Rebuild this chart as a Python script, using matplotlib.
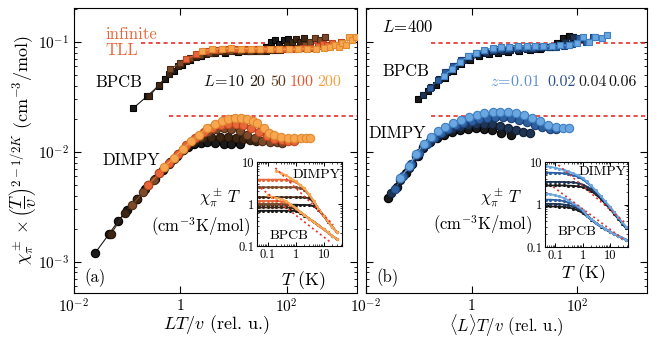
import matplotlib
matplotlib.use("Agg")
import matplotlib.pyplot as plt
from matplotlib.ticker import NullLocator, LogLocator, FixedLocator, NullFormatter

plt.rcParams['font.family'] = 'serif'
plt.rcParams['font.serif'] = ['cmr10', 'DejaVu Serif']
plt.rcParams['mathtext.fontset'] = 'cm'
plt.rcParams['axes.unicode_minus'] = False
plt.rcParams['axes.formatter.use_mathtext'] = True

# ---------------- dados painel (a): BPCB, L = 10, 20, 50, 100, 200
L_vals = ['10', '20', '50', '100', '200']
bpcb_a_x = [
    [0.13, 0.235, 0.39, 0.52, 0.75, 1.08, 1.55, 2.4, 4.2, 7, 12, 20, 30, 40, 50, 60, 72, 88, 105],
    [0.26, 0.4, 0.6, 0.9, 1.3, 2, 3, 4.5, 7, 11, 17, 26, 40, 60, 80, 100, 125, 150, 180, 210],
    [0.65, 1, 1.5, 2.3, 3.5, 5.5, 8.5, 13, 20, 32, 50, 75, 110, 160, 220, 280, 340, 420, 520],
    [1.3, 2, 3, 4.5, 7, 11, 17, 26, 40, 60, 90, 140, 200, 280, 380, 480, 580, 700, 850, 1050],
    [2.6, 4, 6, 9, 14, 21, 32, 48, 72, 110, 160, 240, 350, 500, 650, 800, 950, 1100, 1300, 1500, 1700, 2000],
]
bpcb_a_y = [
    [0.025, 0.032, 0.040, 0.046, 0.054, 0.062, 0.069, 0.075, 0.079, 0.080, 0.081, 0.083, 0.086, 0.091, 0.100, 0.104, 0.096, 0.104, 0.106],
    [0.032, 0.041, 0.051, 0.060, 0.067, 0.073, 0.077, 0.080, 0.081, 0.082, 0.082, 0.082, 0.083, 0.085, 0.088, 0.094, 0.100, 0.106, 0.101, 0.108],
    [0.057, 0.064, 0.071, 0.076, 0.080, 0.082, 0.083, 0.083, 0.083, 0.083, 0.084, 0.085, 0.087, 0.089, 0.093, 0.100, 0.108, 0.104, 0.110],
    [0.070, 0.077, 0.082, 0.085, 0.086, 0.086, 0.086, 0.086, 0.086, 0.086, 0.086, 0.087, 0.088, 0.089, 0.092, 0.096, 0.093, 0.099, 0.094, 0.100],
    [0.083, 0.086, 0.087, 0.088, 0.087, 0.087, 0.087, 0.086, 0.086, 0.086, 0.086, 0.087, 0.087, 0.088, 0.090, 0.094, 0.090, 0.098, 0.093, 0.112, 0.104, 0.110],
]

# DIMPY, L = 10, 20, 50, 100, 200
dimpy_a_x = [
    [0.0249, 0.046, 0.0685, 0.0986, 0.15, 0.22, 0.33, 0.48, 0.65, 0.85, 1.1, 1.4, 1.8, 2.4, 3.2, 4.5, 6.5, 9, 13.5],
    [0.05, 0.09, 0.15, 0.25, 0.4, 0.6, 0.9, 1.3, 1.9, 2.7, 3.8, 5.5, 8, 11, 15, 20, 27],
    [0.125, 0.2, 0.32, 0.5, 0.75, 1.1, 1.6, 2.3, 3.3, 4.7, 6.5, 9, 13, 18, 25, 35, 48, 65, 80],
    [0.25, 0.4, 0.6, 0.9, 1.3, 1.9, 2.8, 4, 5.7, 8, 11, 15, 21, 30, 42, 58, 80, 105, 135],
    [0.5, 0.75, 1.1, 1.6, 2.2, 3.2, 4.5, 6, 8, 10.5, 14, 18, 23, 28, 37, 46, 57, 77, 104, 136, 183, 230, 280],
]
dimpy_a_y = [
    [0.0012, 0.0018, 0.00237, 0.00297, 0.0037, 0.0046, 0.0057, 0.0069, 0.0081, 0.0092, 0.0103, 0.0112, 0.0118, 0.0121, 0.0122, 0.0120, 0.0118, 0.0117, 0.0117],
    [0.0018, 0.0028, 0.0037, 0.0050, 0.0064, 0.0078, 0.0095, 0.0112, 0.0125, 0.0133, 0.0137, 0.0138, 0.0136, 0.0133, 0.0130, 0.0128, 0.0127],
    [0.0033, 0.0043, 0.0056, 0.0071, 0.0086, 0.0104, 0.0122, 0.0138, 0.0152, 0.0161, 0.0165, 0.0163, 0.0155, 0.0143, 0.0133, 0.0126, 0.0123, 0.0122, 0.0121],
    [0.0050, 0.0064, 0.0079, 0.0095, 0.0115, 0.0133, 0.0152, 0.0166, 0.0176, 0.0181, 0.0180, 0.0175, 0.0165, 0.0152, 0.0140, 0.0132, 0.0128, 0.0127, 0.0126],
    [0.0073, 0.0088, 0.0106, 0.0126, 0.0142, 0.0165, 0.0180, 0.0192, 0.0200, 0.0204, 0.0204, 0.0200, 0.0193, 0.0182, 0.0164, 0.0150, 0.0142, 0.0137, 0.0135, 0.0133, 0.0133, 0.0134, 0.0133],
]

# ---------------- dados painel (b): L = 400, z = 0.06, 0.04, 0.02, 0.01
z_vals = ['0.06', '0.04', '0.02', '0.01']
bpcb_b_x = [
    [0.097, 0.15, 0.21, 0.31, 0.44, 0.64, 0.92, 1.4, 2.1, 3.2, 5, 8, 13, 20, 30, 42, 55, 70, 85],
    [0.12, 0.17, 0.24, 0.34, 0.48, 0.68, 0.95, 1.35, 1.9, 2.7, 3.8, 5.4, 7.6, 11, 15, 21, 30, 42, 60, 85, 110],
    [0.16, 0.23, 0.32, 0.45, 0.63, 0.9, 1.25, 1.8, 2.5, 3.5, 5, 7, 10, 14, 20, 28, 40, 56, 80, 110, 150, 200],
    [0.3, 0.42, 0.6, 0.85, 1.2, 1.7, 2.5, 3.6, 5.2, 7.5, 11, 16, 23, 33, 48, 70, 100, 130, 170, 220, 290, 370],
]
bpcb_b_y = [
    [0.030, 0.036, 0.041, 0.047, 0.055, 0.063, 0.069, 0.074, 0.077, 0.079, 0.081, 0.083, 0.085, 0.087, 0.091, 0.098, 0.108, 0.113, 0.110],
    [0.033, 0.039, 0.046, 0.053, 0.061, 0.068, 0.073, 0.077, 0.080, 0.082, 0.083, 0.084, 0.085, 0.086, 0.087, 0.088, 0.090, 0.093, 0.100, 0.110, 0.106],
    [0.038, 0.045, 0.053, 0.061, 0.068, 0.074, 0.079, 0.082, 0.085, 0.086, 0.087, 0.088, 0.089, 0.089, 0.090, 0.090, 0.091, 0.092, 0.095, 0.108, 0.100, 0.112],
    [0.049, 0.057, 0.066, 0.074, 0.080, 0.085, 0.088, 0.090, 0.091, 0.092, 0.092, 0.092, 0.092, 0.092, 0.093, 0.094, 0.097, 0.110, 0.100, 0.112, 0.108, 0.117],
]
dimpy_b_x = [
    [0.026, 0.038, 0.058, 0.075, 0.095, 0.12, 0.16, 0.22, 0.3, 0.42, 0.6, 0.85, 1.2, 1.7, 2.4, 3.6, 5.6],
    [0.03, 0.045, 0.065, 0.09, 0.12, 0.16, 0.22, 0.3, 0.42, 0.6, 0.85, 1.2, 1.7, 2.4, 3.4, 4.8, 6.8, 9.5, 13],
    [0.035, 0.05, 0.07, 0.1, 0.14, 0.19, 0.26, 0.36, 0.5, 0.7, 1, 1.4, 2, 2.8, 4, 5.6, 8, 11, 16, 22, 30, 40],
    [0.045, 0.065, 0.09, 0.125, 0.17, 0.23, 0.32, 0.45, 0.63, 0.9, 1.25, 1.75, 2.5, 3.5, 5, 7, 10, 14, 20, 28, 40, 55, 70],
]
dimpy_b_y = [
    [0.0038, 0.0048, 0.0064, 0.0078, 0.0092, 0.0108, 0.0122, 0.0134, 0.0144, 0.0152, 0.0158, 0.0162, 0.0164, 0.0163, 0.0158, 0.0150, 0.0143],
    [0.0042, 0.0056, 0.0072, 0.0092, 0.0110, 0.0126, 0.0140, 0.0152, 0.0162, 0.0170, 0.0176, 0.0180, 0.0181, 0.0178, 0.0172, 0.0164, 0.0157, 0.0152, 0.0148],
    [0.0046, 0.0060, 0.0077, 0.0098, 0.0118, 0.0135, 0.0150, 0.0163, 0.0174, 0.0184, 0.0193, 0.0200, 0.0205, 0.0207, 0.0206, 0.0202, 0.0195, 0.0186, 0.0176, 0.0167, 0.0162, 0.0160],
    [0.0058, 0.0074, 0.0096, 0.0118, 0.0138, 0.0155, 0.0170, 0.0184, 0.0196, 0.0207, 0.0217, 0.0225, 0.0230, 0.0232, 0.0231, 0.0227, 0.0218, 0.0205, 0.0190, 0.0176, 0.0168, 0.0165, 0.0166],
]

# nivel TLL infinito (BPCB, DIMPY) e inicio das linhas
tll_level = [0.098, 0.0212]
tll_start_a = [0.18, 0.6]
tll_start_b = [0.17, 0.17]

# ---------------- insets: chi*T vs T
T_ins_a = [0.05, 0.07, 0.1, 0.14, 0.2, 0.3, 0.45, 0.65, 1.0, 1.4, 2.0, 3.0, 4.5, 6.5, 10, 14, 20, 30]
ins_a_dimpy = [
    [0.96, 0.96, 0.96, 0.96, 0.96, 0.96, 0.96, 0.96, 0.96, 0.95, 0.95, 0.94, 0.88, 0.72, 0.51, 0.38, 0.29, 0.21],
    [1.45, 1.45, 1.45, 1.45, 1.45, 1.45, 1.45, 1.45, 1.45, 1.44, 1.43, 1.38, 1.08, 0.77, 0.52, 0.39, 0.29, 0.21],
    [2.5, 2.5, 2.5, 2.5, 2.5, 2.5, 2.5, 2.5, 2.48, 2.4, 2.2, 1.65, 1.13, 0.78, 0.52, 0.39, 0.29, 0.21],
    [3.8, 3.8, 3.8, 3.8, 3.8, 3.8, 3.75, 3.6, 3.3, 2.85, 2.35, 1.7, 1.15, 0.78, 0.52, 0.39, 0.29, 0.21],
    [None, None, None, None, 6.2, 5.5, 4.8, 4.2, 3.5, 2.9, 2.4, 1.7, 1.15, 0.78, 0.52, 0.39, 0.29, 0.21],
]
ins_a_bpcb = [
    [0.69, 0.69, 0.69, 0.69, 0.69, 0.69, 0.69, 0.69, 0.68, 0.62, 0.53, 0.45, 0.37, 0.31, 0.25, 0.21, 0.175, 0.145],
    [0.83, 0.83, 0.83, 0.83, 0.83, 0.83, 0.83, 0.82, 0.74, 0.64, 0.55, 0.45, 0.37, 0.31, 0.25, 0.21, 0.175, 0.145],
    [1.0, 1.0, 1.0, 1.0, 1.0, 1.0, 0.99, 0.93, 0.78, 0.66, 0.55, 0.45, 0.37, 0.31, 0.25, 0.21, 0.175, 0.145],
    [1.18, 1.18, 1.18, 1.18, 1.18, 1.16, 1.1, 0.97, 0.79, 0.66, 0.55, 0.45, 0.37, 0.31, 0.25, 0.21, 0.175, 0.145],
    [None, None, 1.6, 1.5, 1.42, 1.32, 1.18, 1.0, 0.8, 0.66, 0.55, 0.45, 0.37, 0.31, 0.25, 0.21, 0.175, 0.145],
]
ins_a_tll_T = [[0.19, 22], [0.057, 19]]
ins_a_tll_v = [[7.2, 0.32], [2.4, 0.118]]

T_ins_b = [0.045, 0.065, 0.1, 0.14, 0.2, 0.3, 0.45, 0.65, 1.0, 1.4, 2.0, 3.0, 4.5, 6.5, 10, 14, 20, 28, 38]
ins_b_dimpy = [
    [2.8, 2.8, 2.8, 2.8, 2.8, 2.78, 2.75, 2.68, 2.55, 2.35, 2.1, 1.72, 1.37, 1.05, 0.79, 0.6, 0.46, 0.35, 0.28],
    [3.4, 3.4, 3.4, 3.4, 3.38, 3.35, 3.3, 3.2, 2.95, 2.65, 2.3, 1.85, 1.45, 1.1, 0.82, 0.62, 0.47, 0.36, 0.28],
    [5.6, 5.6, 5.55, 5.5, 5.4, 5.2, 4.9, 4.5, 3.9, 3.3, 2.7, 2.1, 1.57, 1.18, 0.86, 0.65, 0.49, 0.37, 0.29],
    [8.0, 7.7, 7.3, 6.9, 6.5, 6.0, 5.4, 4.9, 4.2, 3.5, 2.8, 2.15, 1.6, 1.2, 0.88, 0.66, 0.5, 0.38, 0.3],
]
ins_b_bpcb = [
    [0.9, 0.9, 0.9, 0.89, 0.88, 0.85, 0.8, 0.73, 0.63, 0.53, 0.44, 0.36, 0.3, 0.26, 0.225, 0.2, 0.18, 0.16, 0.147],
    [1.04, 1.04, 1.03, 1.02, 1.0, 0.96, 0.9, 0.8, 0.67, 0.56, 0.45, 0.37, 0.31, 0.27, 0.23, 0.2, 0.18, 0.163, 0.148],
    [1.3, 1.3, 1.28, 1.25, 1.2, 1.12, 1.0, 0.87, 0.71, 0.58, 0.46, 0.37, 0.31, 0.27, 0.23, 0.205, 0.185, 0.165, 0.15],
    [1.8, 1.75, 1.65, 1.55, 1.42, 1.26, 1.08, 0.92, 0.74, 0.55, 0.45, 0.37, 0.31, 0.27, 0.23, 0.205, 0.185, 0.165, 0.15],
]
ins_b_tll_T = [[0.13, 34], [0.084, 34]]
ins_b_tll_v = [[8.5, 0.38], [2.6, 0.145]]

# ---------------- cores
face_a = ['#1a1a1a', '#3d2614', '#7b4a2a', '#e8673a', '#f8a650']
edge_a = ['#000000', '#24140a', '#4d2a14', '#c0451d', '#e08a30']
text_a = ['#111111', '#2a1a10', '#5a3418', '#e8552a', '#f5a040']
face_b = ['#1a1a1a', '#1f3352', '#2d5fa3', '#6aa6e0']
edge_b = ['#000000', '#0f1d33', '#1b3f73', '#3f7fc0']
text_b = ['#111111', '#222222', '#2a4f8a', '#5b8fd0']
red = '#e8302a'

W, H = 657, 339


def fpos(x, y):
    # pixel -> fracao da figura
    return x / W, 1 - y / H


def style_main(ax):
    ax.set_xscale('log')
    ax.set_yscale('log')
    ax.set_xlim(1e-2, 2100)
    ax.set_ylim(5.2e-4, 0.204)
    ax.xaxis.set_major_locator(FixedLocator([1e-2, 1, 1e2]))
    ax.xaxis.set_minor_locator(NullLocator())
    ax.set_xticklabels([r'$10^{-2}$', r'$1$', r'$10^{2}$'])
    ax.yaxis.set_major_locator(FixedLocator([1e-3, 1e-2, 1e-1]))
    ax.yaxis.set_minor_locator(LogLocator(base=10, subs=range(2, 10)))
    ax.yaxis.set_minor_formatter(NullFormatter())
    ax.tick_params(which='both', direction='in', top=True, right=True, labelsize=11)
    ax.tick_params(which='major', length=5, width=0.8)
    ax.tick_params(which='minor', length=2.5, width=0.6)


def style_inset(ax):
    ax.set_xscale('log')
    ax.set_yscale('log')
    ax.set_xlim(0.042, 45)
    ax.set_ylim(0.1, 10)
    ax.xaxis.set_major_locator(FixedLocator([0.1, 1, 10]))
    ax.yaxis.set_major_locator(FixedLocator([0.1, 1, 10]))
    ax.set_xticklabels(['0.1', '1', '10'])
    ax.set_yticklabels(['0.1', '1', '10'])
    ax.xaxis.set_minor_formatter(NullFormatter())
    ax.yaxis.set_minor_formatter(NullFormatter())
    ax.tick_params(which='both', direction='in', top=True, right=True, labelsize=9, pad=2)
    ax.tick_params(which='major', length=3, width=0.7)
    ax.tick_params(which='minor', length=1.5, width=0.5)


fig = plt.figure(figsize=(W / 100, H / 100), dpi=100)
axa = fig.add_axes([74 / W, 1 - 293 / H, 283 / W, 285 / H])
axb = fig.add_axes([366 / W, 1 - 293 / H, 281 / W, 285 / H])

# painel (a)
for i in range(len(L_vals)):
    axa.plot(bpcb_a_x[i], bpcb_a_y[i], '-s', color=face_a[i], mfc=face_a[i], mec=edge_a[i],
             ms=5, mew=0.8, lw=0.8, zorder=3 + i)
    axa.plot(dimpy_a_x[i], dimpy_a_y[i], '-o', color=face_a[i], mfc=face_a[i], mec=edge_a[i],
             ms=6, mew=0.8, lw=0.8, zorder=3 + i)
for lev, x0 in zip(tll_level, tll_start_a):
    axa.hlines(lev, x0, 2100, colors=red, linestyles=(0, (2.5, 2)), lw=1.2, zorder=2)
style_main(axa)
axa.set_ylabel(r'$\chi_\pi^\pm\times\left(\dfrac{T}{v}\right)^{2-1/2K}$ (cm$^{-3}$/mol)', fontsize=13, labelpad=0)
fig.text(*fpos(216, 325), r'$LT/v$ (rel. u.)', fontsize=13, ha='center', va='center')

# painel (b)
for i in range(len(z_vals)):
    axb.plot(bpcb_b_x[i], bpcb_b_y[i], '-s', color=face_b[i], mfc=face_b[i], mec=edge_b[i],
             ms=5, mew=0.8, lw=0.8, zorder=3 + i)
    axb.plot(dimpy_b_x[i], dimpy_b_y[i], '-o', color=face_b[i], mfc=face_b[i], mec=edge_b[i],
             ms=6, mew=0.8, lw=0.8, zorder=3 + i)
for lev, x0 in zip(tll_level, tll_start_b):
    axb.hlines(lev, x0, 2100, colors=red, linestyles=(0, (2.5, 2)), lw=1.2, zorder=2)
style_main(axb)
axb.set_yticklabels([])
fig.text(*fpos(506, 326), r'$\langle L\rangle T/v$ (rel. u.)', fontsize=12, ha='center', va='center')

# textos painel (a)
fig.text(*fpos(105, 34), 'infinite', color='#e8673a', fontsize=12, va='center', ha='left')
fig.text(*fpos(105, 50), 'TLL', color='#e8673a', fontsize=12, va='center', ha='left')
fig.text(*fpos(119, 82), 'BPCB', fontsize=12, va='center', ha='center')
fig.text(*fpos(131, 160), 'DIMPY', fontsize=12, va='center', ha='center')
fig.text(*fpos(95, 278), '(a)', fontsize=12, va='center', ha='center')
fig.text(*fpos(203, 82), r'$L\!=\!$10', color=text_a[0], fontsize=11.5, va='center', ha='left')
for s, xp, c in zip(L_vals[1:], [249, 270, 290, 317], text_a[1:]):
    fig.text(*fpos(xp, 82), s, color=c, fontsize=11.5, va='center', ha='left')

# textos painel (b)
fig.text(*fpos(408, 27), r'$L\!=\!$400', fontsize=12, va='center', ha='center')
fig.text(*fpos(406, 71), 'BPCB', fontsize=12, va='center', ha='center')
fig.text(*fpos(397, 133), 'DIMPY', fontsize=12, va='center', ha='center')
fig.text(*fpos(387, 278), '(b)', fontsize=12, va='center', ha='center')
fig.text(*fpos(490, 82), r'$z\!=\!0.01$', color=text_b[3], fontsize=11.5, va='center', ha='left')
for s, xp, c in zip(['0.02', '0.04', '0.06'], [547, 578, 608], [text_b[2], text_b[1], text_b[0]]):
    fig.text(*fpos(xp, 82), s, color=c, fontsize=11.5, va='center', ha='left')

# inset (a)
ina = fig.add_axes([257 / W, 1 - 246 / H, 85 / W, 84 / H])
for i in range(len(L_vals)):
    ina.plot(T_ins_a, ins_a_dimpy[i], '.-', color=face_a[i], ms=2.5, lw=1.3)
    ina.plot(T_ins_a, ins_a_bpcb[i], '.-', color=face_a[i], ms=2.5, lw=1.3)
for tt, vv in zip(ins_a_tll_T, ins_a_tll_v):
    ina.plot(tt, vv, color=red, ls=(0, (1.2, 1.8)), lw=1.2)
style_inset(ina)
ina.text(0.98, 0.85, 'DIMPY', transform=ina.transAxes, fontsize=10, ha='right', va='center')
ina.text(0.38, 0.12, 'BPCB', transform=ina.transAxes, fontsize=10, ha='center', va='center')
fig.text(*fpos(241, 198), r'$\chi_\pi^\pm\, T$', fontsize=12, ha='right', va='center')
fig.text(*fpos(250, 227), r'(cm$^{-3}$K/mol)', fontsize=12, ha='right', va='center')
fig.text(*fpos(303, 281), r'$T$ (K)', fontsize=13, ha='center', va='center')

# inset (b)
inb = fig.add_axes([545 / W, 1 - 247 / H, 83 / W, 85 / H])
for i in range(len(z_vals)):
    inb.plot(T_ins_b, ins_b_dimpy[i], '.-', color=face_b[i], ms=2.5, lw=1.3)
    inb.plot(T_ins_b, ins_b_bpcb[i], '.-', color=face_b[i], ms=2.5, lw=1.3)
for tt, vv in zip(ins_b_tll_T, ins_b_tll_v):
    inb.plot(tt, vv, color=red, ls=(0, (1.2, 1.8)), lw=1.2)
style_inset(inb)
inb.text(0.98, 0.88, 'DIMPY', transform=inb.transAxes, fontsize=10, ha='right', va='center')
inb.text(0.38, 0.18, 'BPCB', transform=inb.transAxes, fontsize=10, ha='center', va='center')
fig.text(*fpos(522, 198), r'$\chi_\pi^\pm\, T$', fontsize=12, ha='right', va='center')
fig.text(*fpos(532, 225), r'(cm$^{-3}$K/mol)', fontsize=12, ha='right', va='center')
fig.text(*fpos(583, 274), r'$T$ (K)', fontsize=13, ha='center', va='center')

fig.savefig('out.png', dpi=100)
